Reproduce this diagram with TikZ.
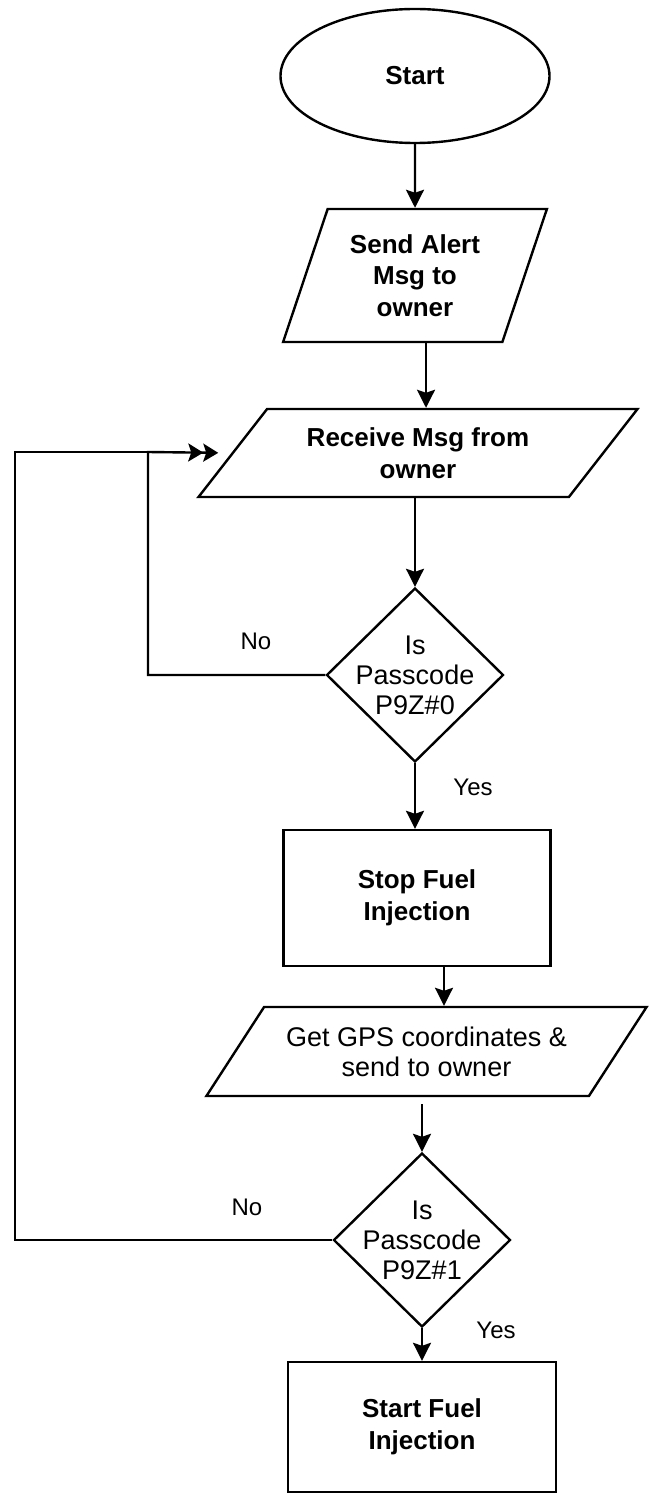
\documentclass[tikz,border=0pt]{standalone}
\usepackage{fontspec}
\setmainfont{Liberation Sans}
\usetikzlibrary{shapes.geometric, arrows.meta, positioning, calc}

\begin{document}
\begin{tikzpicture}[
  x=0.5pt, y=-0.5pt,
  btxt/.style={font=\bfseries\fontsize{13}{15.75}\selectfont},
  rtxt/.style={font=\fontsize{13.5}{15}\selectfont},
  terminal/.style={draw, ellipse, line width=1.2pt, minimum width=134.5pt, minimum height=67pt, btxt},
  iobox/.style={draw, trapezium, trapezium stretches=true, line width=1.2pt, align=center, inner sep=0pt},
  procbox/.style={draw, rectangle, line width=1.2pt, align=center, btxt},
  decision/.style={draw, diamond, line width=1.2pt, minimum width=88.5pt, minimum height=87pt, inner sep=-3pt, align=center, rtxt},
  arr/.style={line width=1.2pt, -{Stealth[length=9pt, width=9pt, inset=1.5pt]}},
  dblarr/.style={line width=1.2pt, -{Stealth[length=7.5pt, width=9pt, inset=1.5pt]Stealth[length=7.5pt, width=9pt, inset=1.5pt]}},
  lbl/.style={font=\fontsize{12}{14}\selectfont}
]
  \useasboundingbox (0,0) rectangle (648,1493);

  \node[terminal] (start) at (415, 76) {Start};
  \node[iobox, btxt, trapezium left angle=68, trapezium right angle=112,
        minimum width=133pt, minimum height=66.5pt] (alert) at (415, 275.5) {Send Alert\\Msg to\\owner};
  \node[iobox, btxt, trapezium left angle=45, trapezium right angle=135,
        minimum width=220pt, minimum height=44pt] (recv) at (418, 453) {Receive Msg from\\owner};
  \node[decision] (chk0) at (415, 675) {Is\\Passcode\\P9Z\#0};
  \node[procbox, minimum width=133.5pt, minimum height=68pt] (stopfuel) at (417, 898) {Stop Fuel\\Injection};
  \node[iobox, rtxt, trapezium left angle=45, trapezium right angle=135,
        minimum width=220.5pt, minimum height=44.5pt] (gps) at (426.5, 1051.5) {Get GPS coordinates \&\\send to owner};
  \node[decision] (chk1) at (422, 1240) {Is\\Passcode\\P9Z\#1};
  \node[procbox, minimum width=134pt, minimum height=65pt] (startfuel) at (422, 1427) {Start Fuel\\Injection};

  \coordinate (loopin) at (148, 452);
  \coordinate (loopout) at (15, 452);

  % main flow
  \draw[arr] (start) -- (alert);
  \draw[arr] ([xshift=5.5pt]alert.south) -- ([xshift=5.5pt]alert.south |- recv.north);
  \draw[arr] (recv.south -| chk0.north) -- (chk0.north);
  \draw[arr] (chk0.south) -- (chk0.south |- stopfuel.north);
  \draw[arr] ([xshift=13.5pt]stopfuel.south) -- ([xshift=13.5pt]stopfuel.south |- gps.north);
  \draw[arr, shorten <=3.5pt] (gps.south -| chk1.north) -- (chk1.north);
  \draw[arr] (chk1.south) -- (startfuel.north);

  % retry loops
  \draw[dblarr, shorten >=6.5pt] (chk0.west) -| (loopin) -- (recv.west);
  \draw[line width=1.2pt] (chk1.west) -| (loopout) -- (loopin);

  \node[lbl] (no0) at (256, 641) {No};
  \node[lbl] (yes0) at (473, 787) {Yes};
  \node[lbl] (no1) at (247, 1207) {No};
  \node[lbl] (yes1) at (496, 1330) {Yes};
\end{tikzpicture}
\end{document}
